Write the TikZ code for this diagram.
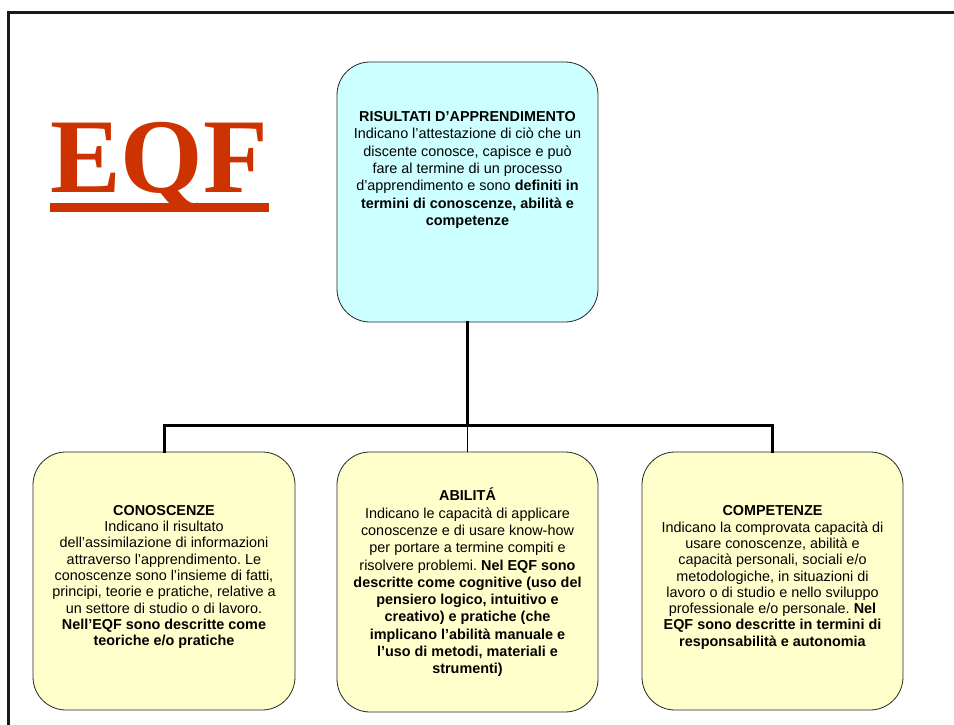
\documentclass[tikz,border=0pt]{standalone}
\usepackage{fontspec}
\setmainfont{Liberation Sans}
\newfontfamily\eqffont{Liberation Serif}
\usetikzlibrary{calc}
\definecolor{eqfred}{HTML}{CC3300}
\definecolor{topfill}{HTML}{CCFFFF}
\definecolor{subfill}{HTML}{FFFFCC}
\frenchspacing
\begin{document}
\begin{tikzpicture}[x=1pt,y=-1pt,
  boxshape/.style={draw=black!85, line width=0.8pt, rounded corners=33pt,
    minimum width=261pt, inner sep=0pt},
  txt/.style={align=center, inner sep=0pt},
  sidetxt/.style={txt, font=\frenchspacing\fontsize{14.4}{16.3}\selectfont},
  midtxt/.style={txt, font=\frenchspacing\fontsize{14.4}{17.3}\selectfont},
  conn/.style={line width=3pt, line cap=rect},
  thinconn/.style={line width=1.3pt}]
\useasboundingbox (0,0) rectangle (954,725);
% frame
\draw[line width=2.6pt, black!90] (8.7,740) -- (8.7,12.7) -- (970,12.7);
% EQF title
\node[anchor=base west, inner sep=0pt, text=eqfred,
  font=\eqffont\bfseries\fontsize{106}{110}\selectfont] (eqf) at (50,192) {EQF};
\fill[eqfred] ($(eqf.base west)+(0,10.7)$) rectangle ($(eqf.base east)+(1,20.3)$);
% boxes
\node[boxshape, fill=topfill, minimum height=260pt] (top) at (467.5,192) {};
\node[boxshape, fill=subfill, minimum height=258pt, minimum width=262pt] (cono) at (164,581) {};
\node[boxshape, fill=subfill, minimum height=260pt] (abil) at (467.5,582) {};
\node[boxshape, fill=subfill, minimum height=258pt] (comp) at (772.5,581) {};
% texts
\node[midtxt] (toptxt) at (467.5,170) {\textbf{RISULTATI D’APPRENDIMENTO}\\
Indicano l’attestazione di ciò che un\\
discente conosce, capisce e può\\
fare al termine di un processo\\
d’apprendimento e sono \textbf{definiti in}\\
\textbf{termini di conoscenze, abilità e}\\
\textbf{competenze}};
\node[sidetxt] (conotxt) at (164,577) {\textbf{CONOSCENZE}\\
Indicano il risultato\\
dell’assimilazione di informazioni\\
attraverso l’apprendimento. Le\\
conoscenze sono l’insieme di fatti,\\
principi, teorie e pratiche, relative a\\
un settore di studio o di lavoro.\\
\textbf{Nell’EQF sono descritte come}\\
\textbf{teoriche e/o pratiche}};
\node[midtxt] (abiltxt) at (467.5,582.5) {\textbf{ABILITÁ}\\
Indicano le capacità di applicare\\
conoscenze e di usare know-how\\
per portare a termine compiti e\\
risolvere problemi. \textbf{Nel EQF sono}\\
\textbf{descritte come cognitive (uso del}\\
\textbf{pensiero logico, intuitivo e}\\
\textbf{creativo) e pratiche (che}\\
\textbf{implicano l’abilità manuale e}\\
\textbf{l’uso di metodi, materiali e}\\
\textbf{strumenti)}};
\node[sidetxt] (comptxt) at (772.5,577.5) {\textbf{COMPETENZE}\\
Indicano la comprovata capacità di\\
usare conoscenze, abilità e\\
capacità personali, sociali e/o\\
metodologiche, in situazioni di\\
lavoro o di studio e nello sviluppo\\
professionale e/o personale. \textbf{Nel}\\
\textbf{EQF sono descritte in termini di}\\
\textbf{responsabilità e autonomia}};
% connectors
\coordinate (bar) at (467.5,425);
\draw[conn] (top.south) -- (bar);
\draw[conn] (cono.north) |- (bar) -| (comp.north);
\draw[thinconn] (bar) -- (abil.north);
\end{tikzpicture}
\end{document}
